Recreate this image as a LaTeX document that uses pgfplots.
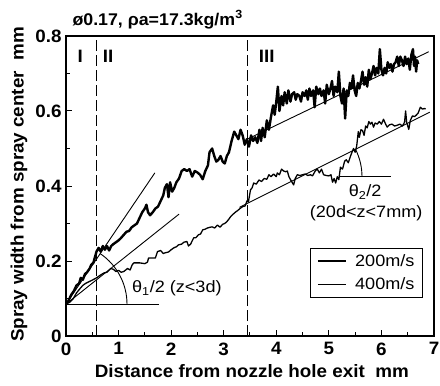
\documentclass[border=0pt]{standalone}
\usepackage{fontspec}
\setmainfont{Liberation Sans}[FakeStretch=1.1]
\newfontfamily\bigf{Liberation Sans}[FakeStretch=1.05]
\usepackage{pgfplots}
\pgfplotsset{compat=1.18}
\newcommand{\bl}{\bigf\fontsize{18}{20}\selectfont\bfseries}
\begin{document}
\begin{tikzpicture}
\useasboundingbox (-66bp,-50bp) rectangle (374bp,336bp);
\begin{axis}[
  at={(0,0)}, anchor=south west,
  width=368bp, height=300bp, scale only axis,
  xmin=0, xmax=7, ymin=0, ymax=0.8,
  clip=false,
  axis line style={line width=1.3bp},
  xtick={0,...,7}, ytick={0,0.2,0.4,0.6,0.8},
  minor x tick num=1, minor y tick num=1,
  tick align=inside, xtick pos=bottom, ytick pos=left,
  major tick length=6bp, minor tick length=4bp,
  tick style={line width=1bp, black},
  /pgf/number format/assume math mode=true,
  yticklabel style={/pgf/number format/fixed},
  tick label style={font=\bl},
  xticklabel style={yshift=-3bp},
  yticklabel style={xshift=-1bp},
  xlabel={Distance from nozzle hole exit\ \ mm},
  ylabel={Spray width from spray center\ \ mm},
  label style={font=\bl},
  xlabel style={at={(axis description cs:0.505,-0.117)}, anchor=center},
  ylabel style={at={(axis description cs:-0.128,0.505)}, anchor=center},
  legend style={at={(axis cs:6.79,0.235)}, anchor=north east, draw=black, line width=1bp,
    font=\fontsize{16.5}{18}\selectfont, inner xsep=6bp, inner ysep=4bp,
    row sep=6bp, column sep=6bp, cells={anchor=west}},
  legend image code/.code={\draw[#1] (0bp,0bp) -- (28bp,0bp);},
]
% region boundaries
\addplot[black, line width=1.1bp, dash pattern=on 11bp off 4bp, forget plot] coordinates {(0.58,0) (0.58,0.8)};
\addplot[black, line width=1.1bp, dash pattern=on 11bp off 4bp, forget plot] coordinates {(3.45,0) (3.45,0.8)};

% 200 m/s
\addplot[black, line width=2.4bp, line join=round] coordinates {
(0.00,0.085) (0.05,0.095) (0.10,0.11) (0.15,0.12) (0.20,0.135) (0.25,0.14) (0.28,0.155) (0.32,0.15)
(0.36,0.165) (0.40,0.17) (0.45,0.18) (0.48,0.19) (0.52,0.195) (0.55,0.21) (0.58,0.225) (0.62,0.235)
(0.66,0.225) (0.70,0.24) (0.74,0.23) (0.78,0.24) (0.82,0.228) (0.86,0.24) (0.90,0.245) (0.95,0.25)
(1.00,0.255) (1.05,0.262) (1.10,0.27) (1.15,0.278) (1.20,0.28) (1.25,0.29) (1.30,0.295) (1.35,0.30)
(1.40,0.315) (1.45,0.33) (1.50,0.34) (1.53,0.35) (1.56,0.33) (1.60,0.322) (1.65,0.33) (1.70,0.34)
(1.75,0.345) (1.80,0.36) (1.85,0.375) (1.88,0.395) (1.92,0.405) (1.95,0.37) (1.98,0.41) (2.02,0.385)
(2.06,0.395) (2.10,0.41) (2.15,0.42) (2.20,0.44) (2.25,0.445) (2.30,0.44) (2.35,0.445) (2.40,0.425)
(2.45,0.44) (2.50,0.436) (2.55,0.43) (2.60,0.418) (2.65,0.44) (2.70,0.455) (2.73,0.49) (2.78,0.50)
(2.82,0.48) (2.86,0.465) (2.90,0.47) (2.94,0.48) (2.98,0.465) (3.02,0.46) (3.06,0.48) (3.10,0.49)
(3.15,0.52) (3.20,0.545) (3.24,0.535) (3.28,0.525) (3.32,0.55) (3.36,0.535) (3.40,0.51) (3.44,0.525)
(3.48,0.505) (3.52,0.535) (3.56,0.52) (3.60,0.53) (3.64,0.515) (3.68,0.55) (3.71,0.52) (3.74,0.555)
(3.78,0.53) (3.82,0.575) (3.86,0.55) (3.90,0.585) (3.94,0.615) (3.97,0.59) (4.00,0.625) (4.03,0.665)
(4.06,0.60) (4.10,0.64) (4.13,0.615) (4.16,0.65) (4.20,0.62) (4.23,0.655) (4.27,0.625) (4.30,0.645)
(4.34,0.65) (4.37,0.63) (4.40,0.645) (4.44,0.64) (4.47,0.625) (4.50,0.65) (4.54,0.64) (4.57,0.655)
(4.60,0.63) (4.63,0.66) (4.66,0.64) (4.70,0.655) (4.73,0.61) (4.76,0.665) (4.80,0.645) (4.83,0.66)
(4.86,0.64) (4.90,0.655) (4.93,0.62) (4.96,0.67) (5.00,0.645) (5.03,0.66) (5.06,0.68) (5.09,0.64)
(5.12,0.665) (5.16,0.65) (5.19,0.705) (5.22,0.64) (5.25,0.62) (5.28,0.66) (5.31,0.58) (5.34,0.655)
(5.37,0.64) (5.40,0.675) (5.43,0.66) (5.46,0.695) (5.49,0.655) (5.52,0.64) (5.55,0.675) (5.58,0.66)
(5.61,0.68) (5.64,0.705) (5.67,0.67) (5.70,0.69) (5.73,0.665) (5.76,0.71) (5.79,0.685) (5.82,0.70)
(5.85,0.72) (5.88,0.695) (5.91,0.715) (5.94,0.70) (5.97,0.765) (6.00,0.71) (6.03,0.695) (6.06,0.715)
(6.09,0.70) (6.12,0.73) (6.15,0.715) (6.18,0.725) (6.21,0.705) (6.24,0.725) (6.27,0.73) (6.30,0.745)
(6.33,0.72) (6.36,0.745) (6.39,0.735) (6.42,0.72) (6.45,0.745) (6.48,0.725) (6.51,0.74) (6.54,0.71)
(6.57,0.75) (6.60,0.765) (6.62,0.72) (6.64,0.745) (6.66,0.705) (6.68,0.735) (6.70,0.725)
};
\addlegendentry{200m/s}

% 400 m/s
\addplot[black, line width=1.3bp, line join=round] coordinates {
(0.00,0.085) (0.07,0.09) (0.14,0.10) (0.20,0.115) (0.27,0.127) (0.32,0.135) (0.37,0.14) (0.44,0.145)
(0.50,0.149) (0.58,0.155) (0.65,0.162) (0.72,0.168) (0.78,0.17) (0.85,0.18) (0.90,0.178) (0.95,0.172)
(1.00,0.175) (1.05,0.17) (1.10,0.172) (1.17,0.18) (1.22,0.176) (1.26,0.19) (1.29,0.195) (1.40,0.195)
(1.50,0.193) (1.55,0.197) (1.57,0.208) (1.70,0.208) (1.74,0.225) (1.80,0.228) (1.85,0.22) (1.89,0.222)
(1.95,0.224) (2.00,0.23) (2.05,0.235) (2.10,0.238) (2.14,0.243) (2.20,0.245) (2.24,0.25) (2.30,0.252)
(2.33,0.24) (2.37,0.245) (2.43,0.262) (2.47,0.262) (2.52,0.27) (2.56,0.272) (2.60,0.283) (2.65,0.285)
(2.69,0.288) (2.74,0.29) (2.78,0.291) (2.83,0.288) (2.88,0.296) (2.93,0.29) (2.98,0.298) (3.02,0.30)
(3.06,0.305) (3.10,0.312) (3.13,0.318) (3.18,0.325) (3.23,0.331) (3.27,0.335) (3.31,0.34) (3.36,0.345)
(3.41,0.347) (3.44,0.36) (3.47,0.358) (3.51,0.39) (3.54,0.395) (3.57,0.408) (3.62,0.405) (3.67,0.416)
(3.72,0.412) (3.77,0.42) (3.82,0.418) (3.86,0.43) (3.90,0.425) (3.95,0.432) (4.00,0.425) (4.02,0.435)
(4.06,0.43) (4.10,0.445) (4.14,0.44) (4.18,0.438) (4.21,0.44) (4.24,0.425) (4.27,0.417) (4.30,0.41)
(4.33,0.403) (4.36,0.42) (4.40,0.43) (4.45,0.428) (4.50,0.43) (4.55,0.432) (4.60,0.428) (4.65,0.43)
(4.69,0.427) (4.74,0.44) (4.78,0.445) (4.82,0.435) (4.86,0.445) (4.90,0.43) (4.95,0.428) (5.00,0.427)
(5.04,0.43) (5.07,0.41) (5.10,0.42) (5.13,0.408) (5.16,0.425) (5.19,0.417) (5.22,0.45) (5.26,0.445)
(5.30,0.466) (5.33,0.47) (5.37,0.462) (5.41,0.479) (5.44,0.49) (5.47,0.50) (5.50,0.49) (5.53,0.507)
(5.56,0.545) (5.58,0.53) (5.61,0.55) (5.64,0.548) (5.67,0.535) (5.70,0.56) (5.73,0.555) (5.76,0.572)
(5.79,0.565) (5.82,0.57) (5.85,0.557) (5.88,0.568) (5.92,0.565) (5.96,0.572) (6.00,0.565) (6.04,0.578)
(6.08,0.565) (6.11,0.557) (6.15,0.563) (6.20,0.565) (6.25,0.56) (6.30,0.562) (6.35,0.565) (6.40,0.56)
(6.44,0.57) (6.46,0.60) (6.48,0.57) (6.52,0.551) (6.55,0.575) (6.59,0.587) (6.63,0.585) (6.67,0.59)
(6.70,0.595) (6.74,0.61) (6.78,0.605) (6.82,0.607) (6.84,0.605)
};
\addlegendentry{400m/s}

% fitted lines
\addplot[black, line width=0.9bp, forget plot] coordinates {(0,0.085) (1.69,0.435)};
\addplot[black, line width=0.9bp, forget plot] coordinates {(0,0.085) (2.15,0.325)};
\addplot[black, line width=0.9bp, forget plot] coordinates {(0,0.085) (1.77,0.085)};
\addplot[black, line width=0.9bp, forget plot] coordinates {(3.45,0.525) (6.90,0.758)};
\addplot[black, line width=0.9bp, forget plot] coordinates {(3.30,0.343) (6.92,0.597)};
\addplot[black, line width=0.9bp, forget plot] coordinates {(5.19,0.425) (6.18,0.425)};

% angle arcs
\draw[black, line width=0.9bp] (axis cs:0,0.085) ++(55.9:61bp) arc[start angle=55.9, end angle=0, radius=61bp];
\draw[black, line width=0.9bp] (axis cs:4.47,0.425) ++(26.6:61bp) arc[start angle=26.6, end angle=0, radius=61bp];

% annotations
\node[anchor=base west, inner sep=0] at (axis cs:0.12,0.829) {\bigf\fontsize{17}{19}\selectfont\bfseries ø0.17, ρa=17.3kg/m\textsuperscript{3}};
\node[anchor=base, inner sep=0] at (axis cs:0.27,0.728) {\bl I};
\node[anchor=base, inner sep=0] at (axis cs:0.80,0.728) {\bl II};
\node[anchor=base, inner sep=0] at (axis cs:3.82,0.728) {\bl III};
\node[anchor=base west, inner sep=0] at (axis cs:1.255,0.115) {\fontsize{16.5}{18}\selectfont θ\textsubscript{1}/2 (z<3d)};
\node[anchor=base, inner sep=0] at (axis cs:5.69,0.371) {\fontsize{16.5}{18}\selectfont θ\textsubscript{2}/2};
\node[anchor=base, inner sep=0] at (axis cs:5.71,0.317) {\fontsize{16.5}{18}\selectfont (20d<z<7mm)};
\end{axis}
\end{tikzpicture}
\end{document}
